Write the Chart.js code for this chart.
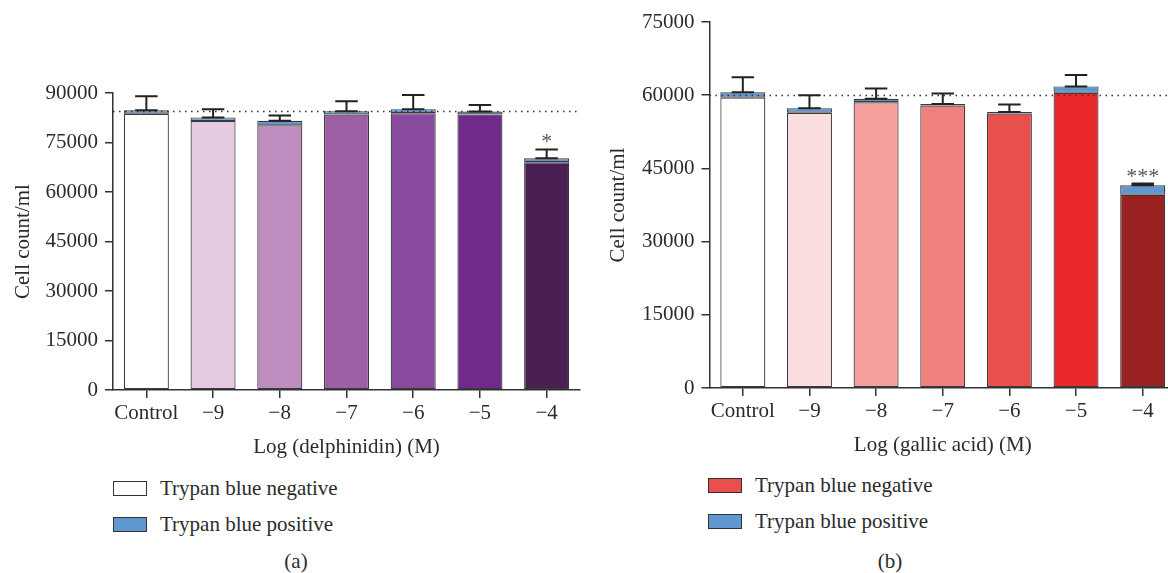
<!DOCTYPE html>
<html>
<head>
<meta charset="utf-8">
<script src="https://cdn.jsdelivr.net/npm/chart.js@4.4.1/dist/chart.umd.min.js"></script>
<style>
body { margin: 0; width: 1168px; height: 573px; overflow: hidden; background: #fff; position: relative; font-family: "Liberation Serif", serif; color: #2b2b2b; }
canvas { position: absolute; top: 0; }
.legend { position: absolute; font-size: 21px; }
.legend-item { position: absolute; left: 0; white-space: nowrap; height: 24px; line-height: 24px; }
.legend-box { position: absolute; left: 0; top: 5px; width: 34px; height: 15px; border: 1px solid #333; box-sizing: border-box; }
.legend-text { position: absolute; left: 47px; top: 0; }
.caption { position: absolute; font-size: 21px; transform: translate(-50%, -50%); }
</style>
</head>
<body>
<canvas id="chartA" width="584" height="470" style="left:0"></canvas>
<canvas id="chartB" width="600" height="468" style="left:584px"></canvas>
<div class="legend" id="legendA" style="left:113px; top:476px"></div>
<div class="legend" id="legendB" style="left:708px; top:473px"></div>
<div class="caption" style="left:296px; top:561px">(a)</div>
<div class="caption" style="left:890px; top:561px">(b)</div>
<script>
const categories = ['Control', '\u22129', '\u22128', '\u22127', '\u22126', '\u22125', '\u22124'];
const datasetLabels = ['Trypan blue negative', 'Trypan blue positive'];
const positiveColor = '#6197d0';

// (a) delphinidin
const delphNegative = [83700, 81500, 80200, 83500, 83900, 83500, 69000];
const delphPositive = [1100, 1100, 1400, 1000, 1200, 900, 1200];
const delphError = [4200, 2500, 1600, 3000, 4300, 2000, 2700];
const delphStars = ['', '', '', '', '', '', '*'];
const delphColors = ['#ffffff', '#e6cae2', '#bf8dc0', '#9c5fa4', '#884b9d', '#6f2a8c', '#4b1f53'];
const delphLegendColors = ['#ffffff', positiveColor];
const delphTicks = [0, 15000, 30000, 45000, 60000, 75000, 90000];
const delphReference = 84500;

// (b) gallic acid
const gallicNegative = [59500, 56400, 58550, 57900, 56250, 60500, 39600];
const gallicPositive = [1100, 950, 700, 300, 300, 1300, 1950];
const gallicError = [3100, 2650, 2100, 2150, 1550, 2350, 350];
const gallicStars = ['', '', '', '', '', '', '***'];
const gallicColors = ['#ffffff', '#fbdfe0', '#f4a1a0', '#f07f7e', '#e94f4c', '#ea2a2a', '#9a2122'];
const gallicLegendColors = ['#e94f4c', positiveColor];
const gallicTicks = [0, 15000, 30000, 45000, 60000, 75000];
const gallicReference = 60000;

const textColor = '#2b2b2b';
const axisColor = '#333';
const font = { family: '"Liberation Serif", serif', size: 21 };

const extrasPlugin = {
    id: 'extras',
    afterDatasetsDraw(chart, args, opts) {
        const ctx = chart.ctx;
        const y = chart.scales.y;
        const area = chart.chartArea;
        ctx.save();
        // dotted control line
        ctx.strokeStyle = axisColor;
        ctx.lineWidth = 1.5;
        ctx.setLineDash([1.5, 4.5]);
        const ry = Math.round(y.getPixelForValue(opts.reference)) + 0.5;
        ctx.beginPath();
        ctx.moveTo(area.left, ry);
        ctx.lineTo(area.right, ry);
        ctx.stroke();
        ctx.setLineDash([]);
        // error bars on top of the stack
        ctx.strokeStyle = '#222';
        ctx.lineWidth = 2;
        chart.getDatasetMeta(1).data.forEach((bar, i) => {
            const total = opts.negative[i] + opts.positive[i];
            const ey = y.getPixelForValue(total + opts.error[i]);
            const half = bar.width * 0.25;
            ctx.beginPath();
            ctx.moveTo(bar.x, bar.y);
            ctx.lineTo(bar.x, ey);
            ctx.moveTo(bar.x - half, ey);
            ctx.lineTo(bar.x + half, ey);
            ctx.moveTo(bar.x - half, bar.y);
            ctx.lineTo(bar.x + half, bar.y);
            ctx.stroke();
            if (opts.stars[i]) {
                ctx.fillStyle = '#555';
                ctx.font = '22px "Liberation Serif", serif';
                ctx.textAlign = 'center';
                ctx.textBaseline = 'alphabetic';
                ctx.fillText(opts.stars[i], bar.x, ey - 1);
            }
        });
        ctx.restore();
    }
};

function buildChart(id, o) {
    return new Chart(document.getElementById(id), {
        type: 'bar',
        data: {
            labels: categories,
            datasets: [{
                label: datasetLabels[0],
                data: o.negative,
                backgroundColor: o.colors,
                borderColor: '#3a3a3a',
                borderWidth: 1.2,
                borderSkipped: false,
                categoryPercentage: 1,
                barPercentage: 0.675
            }, {
                label: datasetLabels[1],
                data: o.positive,
                backgroundColor: positiveColor,
                borderColor: '#3a3a3a',
                borderWidth: 1.2,
                borderSkipped: false,
                categoryPercentage: 1,
                barPercentage: 0.675
            }]
        },
        options: {
            responsive: false,
            animation: false,
            layout: { padding: { top: o.top, right: o.right, left: 0, bottom: 0 } },
            plugins: {
                legend: { display: false },
                tooltip: { enabled: false },
                extras: { reference: o.reference, negative: o.negative, positive: o.positive, error: o.error, stars: o.stars }
            },
            scales: {
                x: {
                    stacked: true,
                    offset: true,
                    grid: { offset: false, drawOnChartArea: false, color: axisColor, lineWidth: 1.5, tickLength: 8 },
                    border: { color: axisColor, width: 1.5 },
                    ticks: { color: textColor, font: font, padding: 3, maxRotation: 0, autoSkip: false },
                    title: { display: true, text: o.xTitle, color: textColor, font: font, padding: { top: 0, bottom: 10 } },
                    afterFit: s => { s.height = 80; }
                },
                y: {
                    stacked: true,
                    min: 0,
                    max: o.ticks[o.ticks.length - 1],
                    grid: { drawOnChartArea: false, color: axisColor, lineWidth: 1.5, tickLength: 8 },
                    border: { color: axisColor, width: 1.5 },
                    ticks: { color: textColor, font: font, padding: 7, callback: v => String(v) },
                    afterBuildTicks: s => { s.ticks = o.ticks.map(v => ({ value: v })); },
                    title: { display: true, text: 'Cell count/ml', color: textColor, font: font, padding: { top: o.titlePad, bottom: 0 } },
                    afterFit: s => { s.width = o.yWidth; }
                }
            }
        },
        plugins: [extrasPlugin]
    });
}

function buildLegend(chart, elementId, colors) {
    const el = document.getElementById(elementId);
    el.innerHTML = '';
    chart.data.datasets.forEach((dataset, i) => {
        el.innerHTML += '<div class="legend-item" style="top:' + (i * 36) + 'px">' +
            '<span class="legend-box" style="background:' + colors[i] + '"></span>' +
            '<span class="legend-text">' + dataset.label + '</span></div>';
    });
}

const chartA = buildChart('chartA', {
    negative: delphNegative, positive: delphPositive, error: delphError, stars: delphStars,
    colors: delphColors, ticks: delphTicks, reference: delphReference,
    xTitle: 'Log (delphinidin) (M)', top: 93, right: 4, yWidth: 113, titlePad: 11
});
const chartB = buildChart('chartB', {
    negative: gallicNegative, positive: gallicPositive, error: gallicError, stars: gallicStars,
    colors: gallicColors, ticks: gallicTicks, reference: gallicReference,
    xTitle: 'Log (gallic acid) (M)', top: 22, right: 8, yWidth: 125.5, titlePad: 22
});
buildLegend(chartA, 'legendA', delphLegendColors);
buildLegend(chartB, 'legendB', gallicLegendColors);
</script>
</body>
</html>
